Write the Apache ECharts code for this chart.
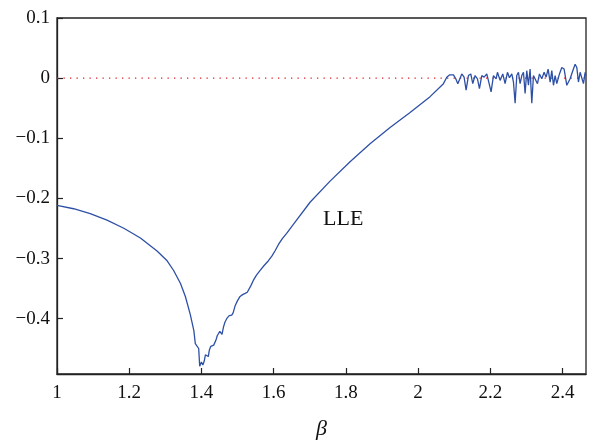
<!DOCTYPE html>
<html>
<head>
<meta charset="utf-8">
<script src="https://cdn.jsdelivr.net/npm/echarts@6/dist/echarts.min.js"></script>
<style>
html,body{margin:0;padding:0;background:#fff;}
#chart{width:589px;height:445px;}
</style>
</head>
<body>
<div id="chart"></div>
<script>
// ---- data ----
var beta = [
  1.000, 1.046, 1.092, 1.1385, 1.185, 1.231, 1.277, 1.305, 1.323, 1.342, 1.3555, 1.369,
  1.379, 1.383, 1.386, 1.388, 1.3924, 1.3952, 1.398, 1.400, 1.402, 1.404, 1.406, 1.408,
  1.411, 1.414, 1.416, 1.419, 1.422, 1.426, 1.430, 1.434,
  1.437, 1.440, 1.444, 1.447, 1.451, 1.454, 1.457, 1.461, 1.465, 1.471, 1.477, 1.484,
  1.488, 1.493, 1.500, 1.507, 1.514, 1.521, 1.527, 1.531, 1.537, 1.544, 1.552, 1.562,
  1.573, 1.585, 1.595, 1.604, 1.613, 1.624, 1.636, 1.6546, 1.7008, 1.7562,
  1.8116, 1.867, 1.9224, 1.9778, 2.0332, 2.0702, 2.0794, 2.0868, 2.098, 2.1044, 2.1100,
  2.1210, 2.1274, 2.1330, 2.1394, 2.1459, 2.1514, 2.1579, 2.1644,
  2.1699, 2.1764, 2.1828, 2.1902, 2.1958, 2.2022, 2.2087, 2.2161, 2.2198, 2.2271,
  2.2345, 2.2410, 2.2475, 2.2530, 2.2595, 2.2641, 2.2687, 2.2733, 2.2779, 2.2825,
  2.2872, 2.2918, 2.2964, 2.3010, 2.3056, 2.3102, 2.3149, 2.3195, 2.3241, 2.3306,
  2.3361, 2.3426, 2.3490, 2.3546, 2.3601, 2.3657, 2.3703, 2.3749, 2.3795, 2.3841,
  2.3915, 2.3980, 2.4044, 2.4118, 2.4210, 2.4284, 2.4349, 2.4395, 2.4441, 2.4487,
  2.4534, 2.4580, 2.4626, 2.4645
];
var lle = [
  -0.2115, -0.2172, -0.2253, -0.2361, -0.2496, -0.2659, -0.2875, -0.3037, -0.3199, -0.3415, -0.3631, -0.3928,
  -0.4198, -0.4414, -0.4430, -0.4440, -0.4496, -0.4792, -0.4780, -0.4720, -0.4690, -0.4770, -0.4765, -0.4700,
  -0.4600, -0.4620, -0.4580, -0.4630, -0.4520, -0.4460, -0.4430, -0.4440,
  -0.446, -0.436, -0.428, -0.425, -0.421, -0.423, -0.426, -0.414, -0.406, -0.399, -0.395, -0.394,
  -0.390, -0.379, -0.370, -0.363, -0.360, -0.358, -0.356, -0.354, -0.345, -0.336, -0.328, -0.320,
  -0.312, -0.304, -0.296, -0.287, -0.277, -0.267, -0.258, -0.2432, -0.2064, -0.1713,
  -0.1389, -0.1092, -0.0822, -0.0571, -0.0308, -0.0092, 0.0016, 0.0053, 0.0053, -0.0011, -0.0092,
  0.0070, 0.0016, -0.0200, 0.0043, 0.0070, -0.0092, 0.0043, -0.0011,
  -0.0173, 0.0043, 0.0016, 0.0070, -0.0065, -0.0227, 0.0043, -0.0011, 0.0097, -0.0038,
  0.0070, -0.0092, 0.0097, 0.0006, 0.0070, -0.0065, -0.0417, 0.0043, 0.0097, -0.0092,
  0.0043, 0.0097, -0.0254, 0.0124, -0.0119, 0.0151, -0.0417, 0.0043, 0.0070, -0.0092,
  0.0070, -0.0011, 0.0097, 0.0016, 0.0151, -0.0065, 0.0124, -0.0119, 0.0043, -0.0092,
  0.0070, 0.0178, 0.0151, -0.0119, -0.0011, 0.0124, 0.0232, 0.0178, -0.0065, 0.0097,
  0.0124, -0.0092, 0.0097, 0.0043
];
var zeroX = [1, 2.465];
var zeroY = [0, 0];
var xTicks = [1, 1.2, 1.4, 1.6, 1.8, 2, 2.2, 2.4];
var yTicks = [-0.4, -0.3, -0.2, -0.1, 0, 0.1];
var xRange = [1, 2.465];
var yRange = [-0.492, 0.1];
var seriesLabel = 'LLE';
var xName = 'β';

// ---- chart ----
function pairs(xs, ys) {
  var out = [];
  for (var i = 0; i < xs.length; i++) out.push([xs[i], ys[i]]);
  return out;
}
var serif = 'Liberation Serif';
var axisColor = '#222';
var chart = echarts.init(document.getElementById('chart'), null, {renderer: 'canvas'});
chart.setOption({
  animation: false,
  backgroundColor: '#ffffff',
  grid: {
    left: 57, right: 3, top: 18, bottom: 62,
    show: true, borderColor: axisColor, borderWidth: 1.3, backgroundColor: 'transparent'
  },
  xAxis: {
    type: 'value',
    min: xRange[0], max: xRange[1],
    position: 'bottom',
    name: xName,
    nameLocation: 'middle',
    nameGap: 44,
    nameTextStyle: {fontFamily: serif, fontStyle: 'italic', fontSize: 22, color: '#111'},
    axisLine: {show: true, onZero: false, lineStyle: {color: axisColor, width: 1.3}},
    axisTick: {show: true, inside: true, length: 6, customValues: xTicks, lineStyle: {color: axisColor, width: 1.2}},
    axisLabel: {
      customValues: xTicks,
      margin: 10,
      fontFamily: serif, fontSize: 19, color: '#111',
      formatter: function (v) { return String(Math.round(v * 10) / 10); }
    },
    splitLine: {show: false}
  },
  yAxis: {
    type: 'value',
    min: yRange[0], max: yRange[1],
    position: 'left',
    axisLine: {show: true, onZero: false, lineStyle: {color: axisColor, width: 1.3}},
    axisTick: {show: true, inside: true, length: 6, customValues: yTicks, lineStyle: {color: axisColor, width: 1.2}},
    axisLabel: {
      customValues: yTicks,
      margin: 7,
      fontFamily: serif, fontSize: 19, color: '#111',
      formatter: function (v) {
        var r = Math.round(v * 10) / 10;
        if (r === 0) return '0';
        return r.toFixed(1).replace('-', '\u2212');
      }
    },
    splitLine: {show: false}
  },
  series: [
    {
      type: 'line',
      data: pairs(zeroX, zeroY),
      showSymbol: false,
      silent: true,
      lineStyle: {color: '#e0202a', width: 1.3, type: [1.3, 5.2]},
      z: 1
    },
    {
      name: seriesLabel,
      type: 'line',
      data: pairs(beta, lle),
      showSymbol: false,
      lineStyle: {color: '#2d50a6', width: 1.3},
      z: 2
    }
  ],
  graphic: [
    {
      type: 'text',
      left: 323,
      top: 208,
      style: {text: seriesLabel, font: '22px "Liberation Serif"', fill: '#111'}
    }
  ]
});
</script>
</body>
</html>
